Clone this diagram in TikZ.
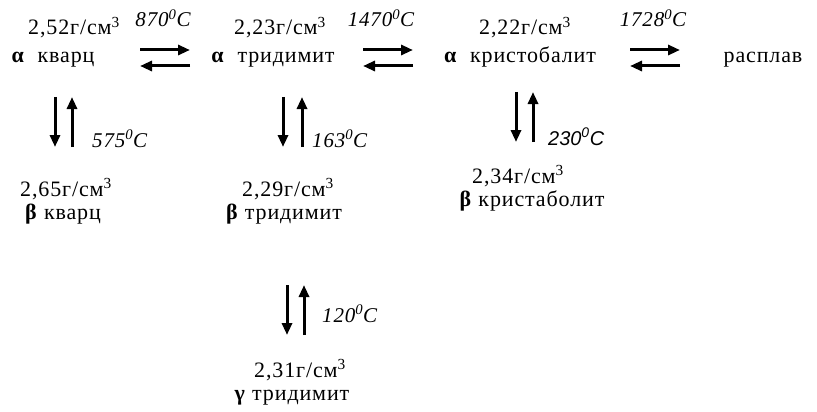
\documentclass[tikz,border=0pt]{standalone}
\usepackage{fontspec}
\setmainfont{Liberation Serif}[LetterSpace=4]
\newfontfamily\arialit{Liberation Sans}[Scale=0.95]
\usetikzlibrary{arrows.meta}

\tikzset{
  dens/.style={anchor=base, inner sep=0pt, font=\fontsize{22}{24}\selectfont},
  phase/.style={anchor=base, inner sep=0pt, font=\fontsize{22}{24}\selectfont},
  temp/.style={anchor=base west, inner sep=0pt, font=\fontsize{21}{23}\selectfont\itshape},
  shift arrow/.style={-{Triangle[length=12pt,width=10pt]}, line width=3pt}
}
\newcommand{\gcm}[1]{#1г/см\textsuperscript{3}}
\newcommand{\tempC}[1]{#1\textsuperscript{0}C}

\begin{document}
\begin{tikzpicture}[x=1pt, y=-1pt]
  \useasboundingbox (0,0) rectangle (817,412);

  % 1. верхний ряд: альфа-формы и расплав
  \node[dens]  (d1) at (74,35)  {\gcm{2,52}};
  \node[dens]  (d2) at (280,35) {\gcm{2,23}};
  \node[dens]  (d3) at (525,35) {\gcm{2,22}};
  \node[phase] (p1) at (53,63)  {\textbf{α}\hspace{0.3em} кварц};
  \node[phase] (p2) at (273,63) {\textbf{α}\hspace{0.3em} тридимит};
  \node[phase] (p3) at (520,63) {\textbf{α}\hspace{0.3em} кристобалит};
  \node[phase] (p4) at (763,63) {расплав};

  % 2. температуры переходов по горизонтали
  \node[temp, anchor=base] (t1) at (163,27) {\tempC{870}};
  \node[temp, anchor=base] (t2) at (381,27) {\tempC{1470}};
  \node[temp, anchor=base] (t3) at (653,27) {\tempC{1728}};

  % 3. обратимые стрелки между альфа-формами
  \foreach \n/\xa/\xb in {1/140/190, 2/363/413, 3/630/680} {
    \coordinate (h\n a) at (\xa,50);
    \coordinate (h\n b) at (\xb,50);
    \coordinate (h\n c) at (\xb,66);
    \coordinate (h\n d) at (\xa,66);
    \draw[shift arrow] (h\n a) -- (h\n b);
    \draw[shift arrow] (h\n c) -- (h\n d);
  }

  % 4. средний ряд: бета-формы
  \node[dens]  (d4) at (66,196)  {\gcm{2,65}};
  \node[dens]  (d5) at (288,196) {\gcm{2,29}};
  \node[dens]  (d6) at (518,183) {\gcm{2,34}};
  \node[phase] (p5) at (63,219)  {\textbf{β} кварц};
  \node[phase] (p6) at (284,219) {\textbf{β} тридимит};
  \node[phase] (p7) at (532,206) {\textbf{β} кристаболит};

  % 5. нижний ряд: гамма-тридимит
  \node[dens]  (d7) at (300,377) {\gcm{2,31}};
  \node[phase] (p8) at (292,400) {\textbf{γ} тридимит};

  % 6. вертикальные обратимые стрелки
  \foreach \n/\xd/\xu/\ya/\yb in {1/55/72/97/147, 2/283/302/97/147,
                                  3/516/533/92/142, 4/287/304/285/335} {
    \coordinate (v\n a) at (\xd,\ya);
    \coordinate (v\n b) at (\xd,\yb);
    \coordinate (v\n c) at (\xu,\yb);
    \coordinate (v\n d) at (\xu,\ya);
    \draw[shift arrow] (v\n a) -- (v\n b);
    \draw[shift arrow] (v\n c) -- (v\n d);
  }
  \node[temp] (t4) at (92,147)  {\tempC{575}};
  \node[temp] (t5) at (312,147) {\tempC{163}};
  \node[temp] (t6) at (548,145) {\arialit\itshape\tempC{230}};
  \node[temp] (t7) at (322,322) {\tempC{120}};
\end{tikzpicture}
\end{document}
